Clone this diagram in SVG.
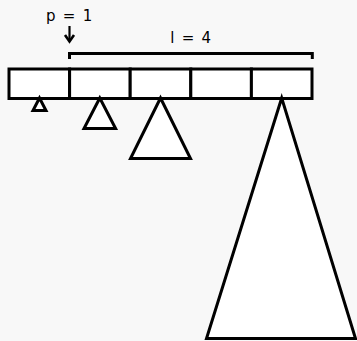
<svg xmlns="http://www.w3.org/2000/svg" width="357" height="341" viewBox="0 0 357 341">
<style>
.s{fill:#fff;stroke:#000;stroke-width:3}
.l{fill:none;stroke:#000;stroke-width:3}
.t{font-family:"DejaVu Sans",sans-serif;font-size:15px;fill:#000;word-spacing:2.5px}
</style>
<rect width="357" height="341" fill="#f8f8f8"/>
<g id="cells">
<rect class="s" x="9" y="69" width="60.6" height="29.5"/>
<rect class="s" x="69.6" y="69" width="60.6" height="29.5"/>
<rect class="s" x="130.2" y="69" width="60.6" height="29.5"/>
<rect class="s" x="190.8" y="69" width="60.6" height="29.5"/>
<rect class="s" x="251.4" y="69" width="60.6" height="29.5"/>
</g>
<g id="trees">
<polygon class="s" points="39.5,98 33,110.5 46,110.5"/>
<polygon class="s" points="99.8,98 84,128.5 115.6,128.5"/>
<polygon class="s" points="160.5,98 130.5,158.5 190.5,158.5"/>
<polygon class="s" points="281.7,98 206.5,338.5 355.5,338.5"/>
</g>
<g id="connectors">
<path class="l" d="M69.5,59 V53.5 H312.3 V59"/>
<line x1="69.5" y1="26" x2="69.5" y2="41" stroke="#000" stroke-width="2.2"/>
<polyline points="65,35 69.5,41.5 74,35" fill="none" stroke="#000" stroke-width="2.6" stroke-linejoin="miter"/>
</g>
<g id="labels">
<text class="t" x="46" y="21">p = 1</text>
<text class="t" x="170.3" y="42.5">l = 4</text>
</g>
</svg>
